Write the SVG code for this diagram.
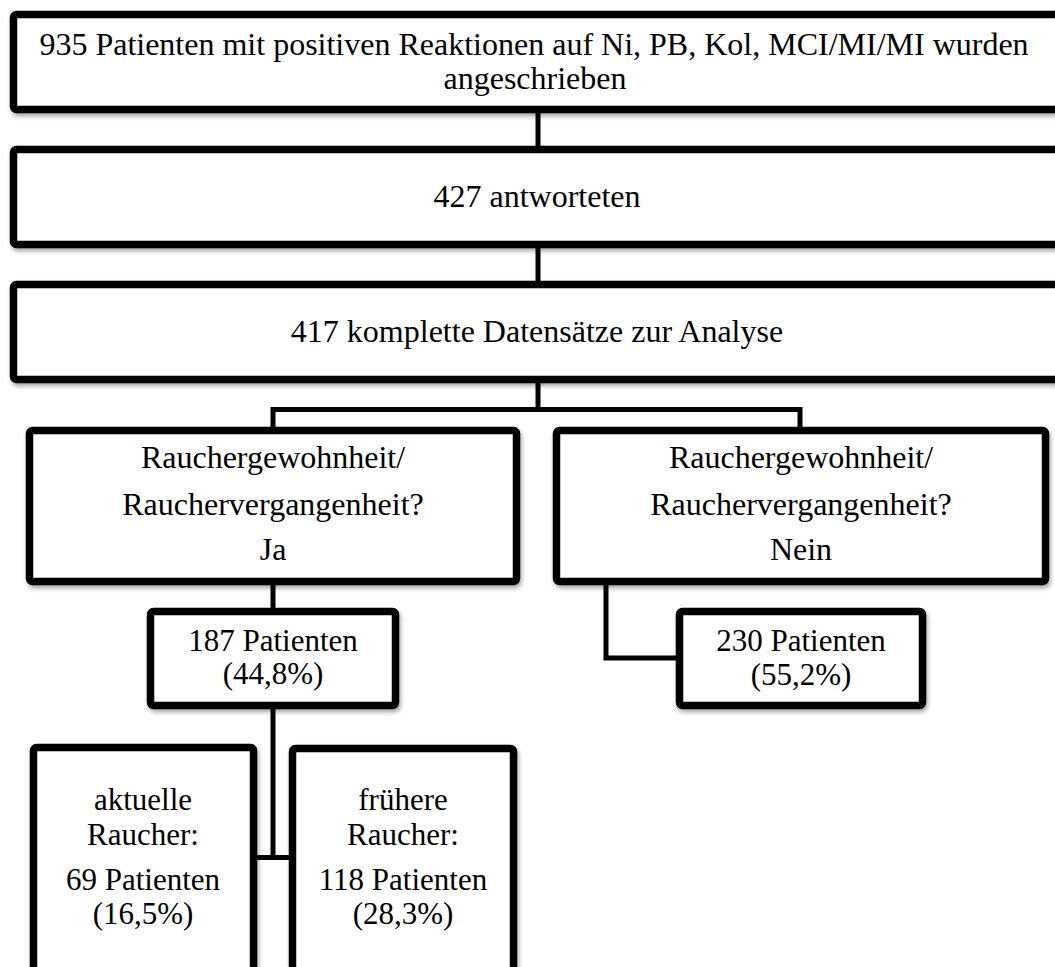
<svg xmlns="http://www.w3.org/2000/svg" width="1055" height="967" viewBox="0 0 1055 967">
<defs>
<filter id="sh" x="-5%" y="-5%" width="115%" height="120%">
<feDropShadow dx="1.5" dy="3" stdDeviation="2" flood-color="#000" flood-opacity="0.35"/>
</filter>
</defs>
<style>
.box{fill:#fff;stroke:#000;stroke-width:7.5;filter:url(#sh)}
.con{fill:none;stroke:#000;stroke-width:5;stroke-linejoin:miter}
text{font-family:"Liberation Serif","Times New Roman",serif;font-size:32px;fill:#000;text-anchor:middle}
.t2{font-size:31px}
</style>
<rect width="1055" height="967" fill="#fff"/>
<g id="connectors">
<path class="con" d="M538 113V146"/>
<path class="con" d="M538 248V281"/>
<path class="con" d="M538 383V409.5M273 427V409.5H800V427"/>
<path class="con" d="M273 585V608"/>
<path class="con" d="M606 584V658H676"/>
<path class="con" d="M273 709V857.5M257 857.5H289"/>
</g>
<g id="n1">
<rect class="box" x="13.5" y="14.5" width="1070" height="95" rx="3"/>
<text x="534" y="55">935 Patienten mit positiven Reaktionen auf Ni, PB, Kol, MCI/MI/MI wurden</text>
<text x="535" y="89">angeschrieben</text>
</g>
<g id="n2">
<rect class="box" x="13.5" y="149.5" width="1070" height="95" rx="3"/>
<text x="537" y="207">427 antworteten</text>
</g>
<g id="n3">
<rect class="box" x="13.5" y="284.5" width="1070" height="95" rx="3"/>
<text x="537" y="342">417 komplette Datensätze zur Analyse</text>
</g>
<g id="n4">
<rect class="box" x="29.5" y="430.5" width="487" height="151" rx="3"/>
<text x="273" y="468">Rauchergewohnheit/</text>
<text x="273" y="515">Rauchervergangenheit?</text>
<text x="273" y="560">Ja</text>
</g>
<g id="n5">
<rect class="box" x="556.5" y="430.5" width="489" height="151" rx="3"/>
<text x="801" y="468">Rauchergewohnheit/</text>
<text x="801" y="515">Rauchervergangenheit?</text>
<text x="801" y="560">Nein</text>
</g>
<g id="n6">
<rect class="box" x="150.5" y="611.5" width="245" height="94" rx="3"/>
<text class="t2" x="273" y="651">187 Patienten</text>
<text class="t2" x="273" y="684">(44,8%)</text>
</g>
<g id="n7">
<rect class="box" x="679.5" y="611.5" width="243" height="94" rx="3"/>
<text class="t2" x="801" y="651">230 Patienten</text>
<text class="t2" x="801" y="685">(55,2%)</text>
</g>
<g id="n8">
<rect class="box" x="33.5" y="747.5" width="220" height="250" rx="3"/>
<text class="t2" x="143" y="810">aktuelle</text>
<text class="t2" x="143" y="845">Raucher:</text>
<text class="t2" x="143" y="890">69 Patienten</text>
<text class="t2" x="143" y="924">(16,5%)</text>
</g>
<g id="n9">
<rect class="box" x="292.5" y="748.5" width="221" height="250" rx="3"/>
<text class="t2" x="403" y="810">frühere</text>
<text class="t2" x="403" y="845">Raucher:</text>
<text class="t2" x="403" y="890">118 Patienten</text>
<text class="t2" x="403" y="924">(28,3%)</text>
</g>
</svg>
